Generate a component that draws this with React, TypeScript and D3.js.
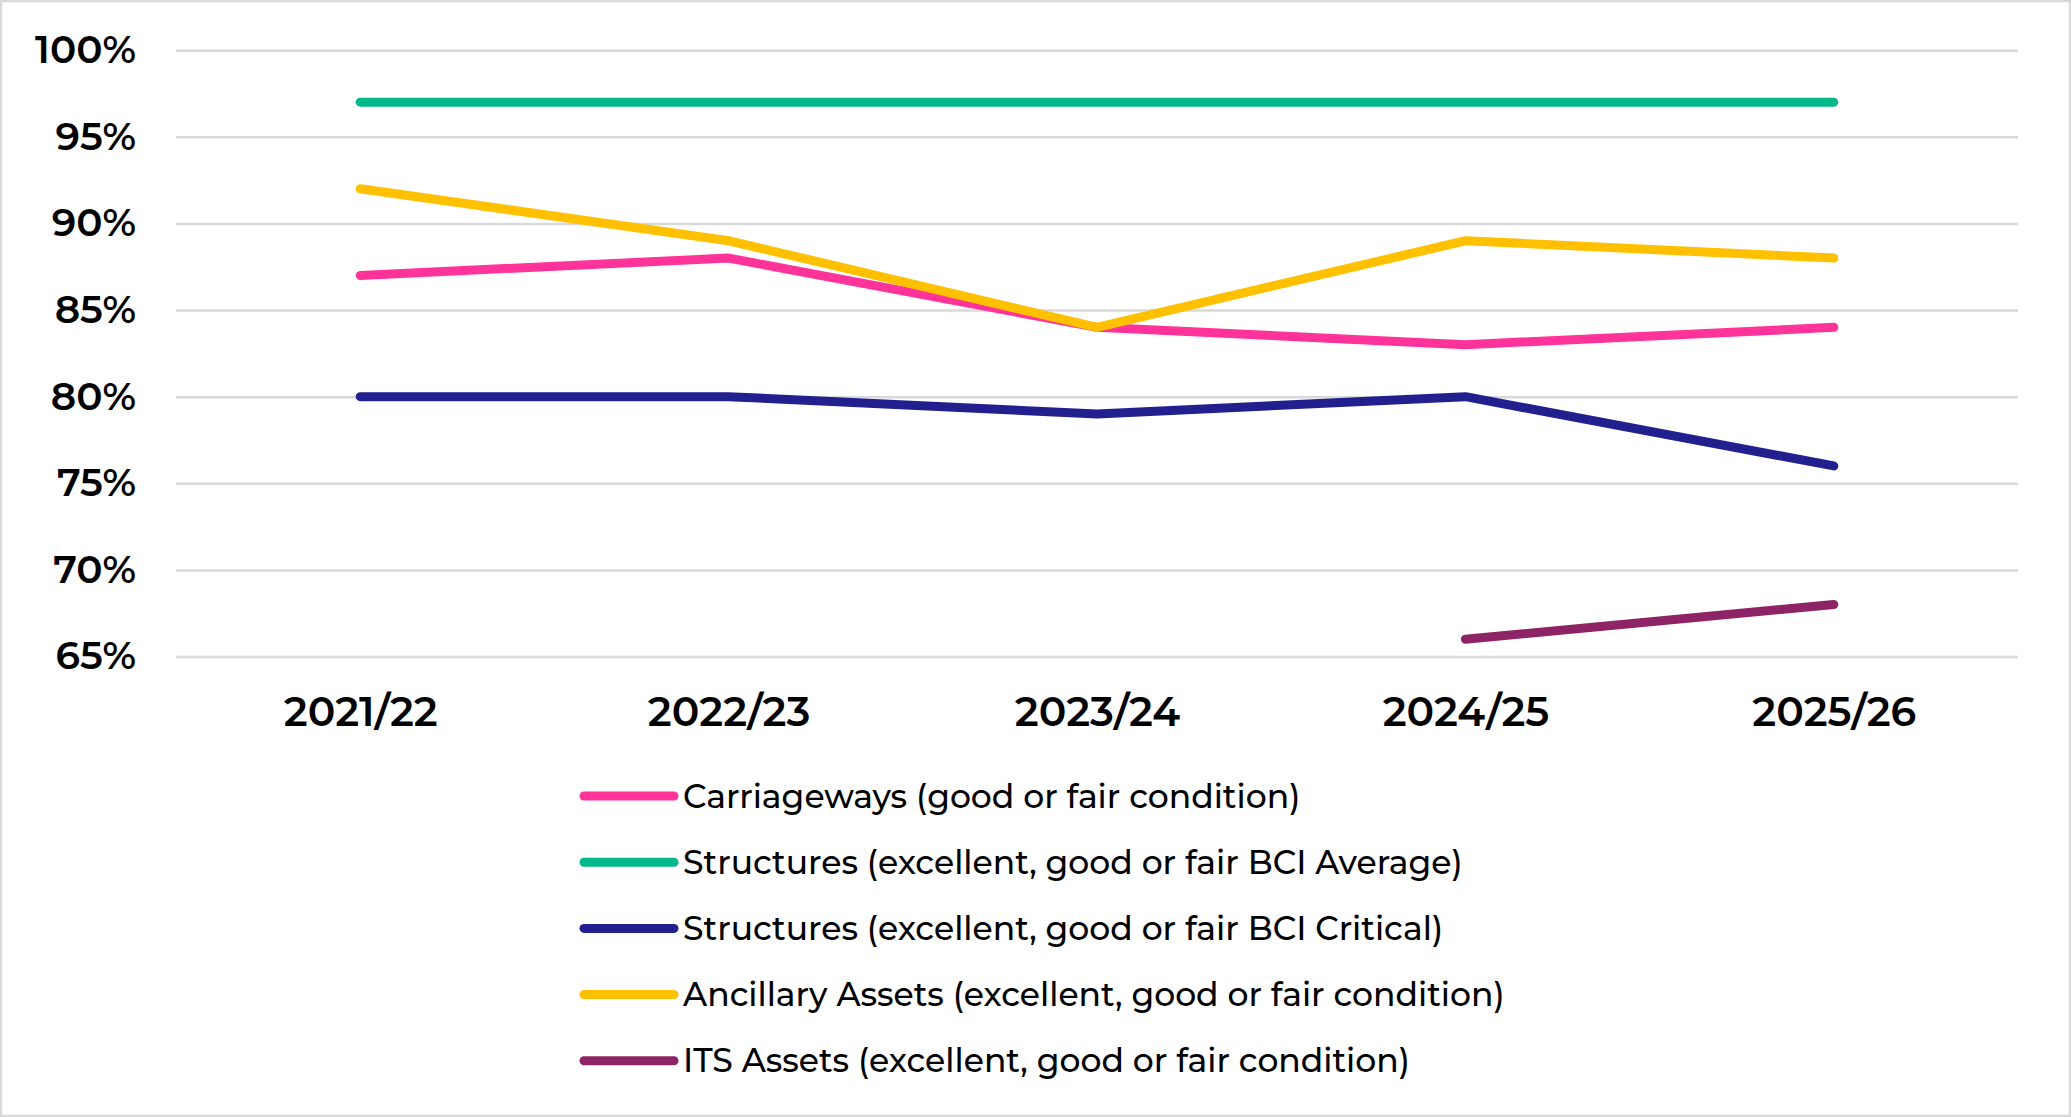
import React from 'react';
import { select, scalePoint, scaleLinear, line, axisLeft, axisBottom } from 'd3';

const years = ['2021/22', '2022/23', '2023/24', '2024/25', '2025/26'];
const yTicks = [65, 70, 75, 80, 85, 90, 95, 100];

const seriesNames = [
  'Carriageways (good or fair condition)',
  'Structures (excellent, good or fair BCI Average)',
  'Structures (excellent, good or fair BCI Critical)',
  'Ancillary Assets (excellent, good or fair condition)',
  'ITS Assets (excellent, good or fair condition)',
];
const seriesColors = ['#ff3399', '#00b88a', '#221f8f', '#ffc000', '#8e2465'];

const carriageways = [87, 88, 84, 83, 84];
const structuresAvg = [97, 97, 97, 97, 97];
const structuresCrit = [80, 80, 79, 80, 76];
const ancillary = [92, 89, 84, 89, 88];
const its = [null, null, null, 66, 68];

const seriesValues = [carriageways, structuresAvg, structuresCrit, ancillary, its];

const W = 2071;
const H = 1117;
const FONT = 'Montserrat, Inter, "Noto Sans", sans-serif';

export default function App() {
  const svgRef = React.useRef(null);

  React.useEffect(() => {
    document.body.style.margin = '0';
    const svg = select(svgRef.current);
    svg.selectAll('*').remove();

    svg
      .append('rect')
      .attr('x', 1)
      .attr('y', 1)
      .attr('width', W - 2)
      .attr('height', H - 2)
      .attr('fill', '#fff')
      .attr('stroke', '#d9d9d9')
      .attr('stroke-width', 2.5);

    const left = 176;
    const right = 2018;
    const x = scalePoint().domain(years).range([left, right]).padding(0.5);
    const y = scaleLinear().domain([65, 100]).range([656.5, 50.2]);

    // gridlines + y labels
    const yAxis = svg
      .append('g')
      .attr('transform', `translate(${left},0)`)
      // @ts-ignore
      .call(
        axisLeft(y)
          .tickValues(yTicks)
          .tickSize(-(right - left))
          .tickPadding(40)
          .tickFormat((d) => `${d}%`)
      );
    yAxis.select('.domain').remove();
    yAxis.selectAll('line').attr('stroke', '#d9d9d9').attr('stroke-width', 2.5);
    yAxis
      .selectAll('text')
      .attr('font-family', FONT)
      .attr('font-size', 39)
      .attr('font-weight', 600)
      .attr('fill', '#000');

    // x labels
    const xAxis = svg
      .append('g')
      .attr('transform', `translate(0,${y(65)})`)
      // @ts-ignore
      .call(axisBottom(x).tickSize(0).tickPadding(40));
    xAxis.select('.domain').remove();
    xAxis
      .selectAll('text')
      .attr('font-family', FONT)
      .attr('font-size', 41)
      .attr('font-weight', 600)
      .attr('fill', '#000');

    const lineGen = line<any>()
      .defined((d) => d != null)
      .x((d, i) => x(years[i]) as number)
      .y((d) => y(d));

    seriesValues.forEach((vals, k) => {
      svg
        .append('path')
        .datum(vals)
        .attr('d', lineGen as any)
        .attr('fill', 'none')
        .attr('stroke', seriesColors[k])
        .attr('stroke-width', 9)
        .attr('stroke-linecap', 'round')
        .attr('stroke-linejoin', 'round');
    });

    // legend
    const legend = svg
      .selectAll('.legend-item')
      .data(seriesNames)
      .join('g')
      .attr('class', 'legend-item')
      .attr('transform', (d, i) => `translate(584,${796 + i * 66.2})`);
    legend
      .append('line')
      .attr('x1', 0)
      .attr('x2', 90)
      .attr('stroke', (d, i) => seriesColors[i])
      .attr('stroke-width', 9)
      .attr('stroke-linecap', 'round');
    legend
      .append('text')
      .attr('x', 99)
      .attr('dy', '0.35em')
      .attr('font-family', FONT)
      .attr('font-size', 33)
      .attr('font-weight', 500)
      .attr('fill', '#000')
      .text((d) => d);
  }, []);

  return (
    <svg
      ref={svgRef}
      width={W}
      height={H}
      style={{ display: 'block', position: 'absolute', left: 0, top: 0 }}
    />
  );
}
